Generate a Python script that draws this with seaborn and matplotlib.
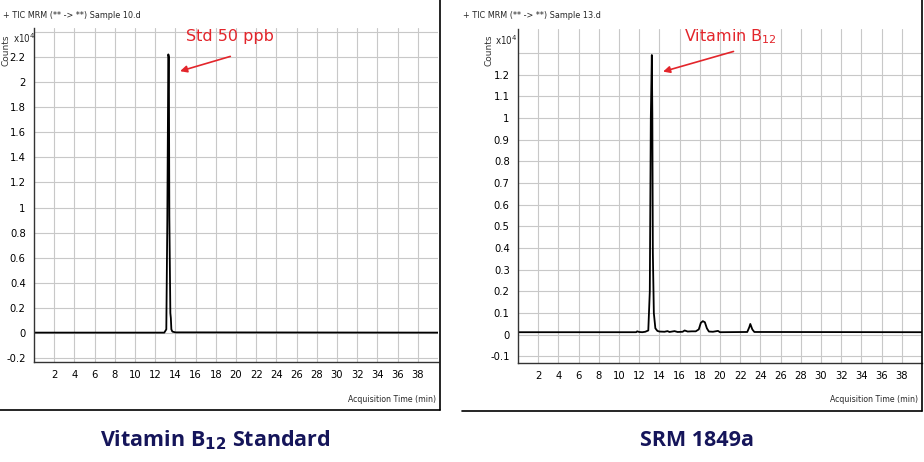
import numpy as np
import pandas as pd
import matplotlib
matplotlib.use("Agg")
import matplotlib.pyplot as plt
import seaborn as sns
from matplotlib.lines import Line2D

# ---------------- data (counts in units of 10^4) ----------------
std_time = [0.0, 12.9, 13.1, 13.2, 13.3, 13.35, 13.4, 13.5, 13.55, 13.6, 13.7, 14.0, 40.0]
std_counts = [0.004, 0.004, 0.03, 0.9, 2.22, 2.2, 0.93, 0.16, 0.12, 0.03, 0.012, 0.006, 0.004]

srm_time = [0.0, 11.7, 11.8, 12.0, 12.3, 12.6, 12.9, 13.05, 13.15, 13.25, 13.3, 13.35,
            13.45, 13.6, 13.8, 14.0, 14.5, 14.8, 15.0, 15.5, 15.8, 16.3, 16.5, 16.8,
            17.2, 17.6, 17.9, 18.1, 18.3, 18.5, 18.7, 18.9, 19.3, 19.8, 20.0, 22.7,
            22.9, 23.0, 23.2, 23.4, 40.0]
srm_counts = [0.012, 0.012, 0.016, 0.013, 0.012, 0.014, 0.02, 0.2, 1.0, 1.29, 1.02, 0.38,
              0.1, 0.03, 0.018, 0.015, 0.014, 0.017, 0.013, 0.017, 0.013, 0.014, 0.02, 0.015,
              0.016, 0.016, 0.025, 0.055, 0.063, 0.058, 0.03, 0.015, 0.014, 0.018, 0.012, 0.013,
              0.035, 0.05, 0.025, 0.013, 0.012]

x_ticks = list(range(2, 40, 2))
std_yticks = [-0.2, 0, 0.2, 0.4, 0.6, 0.8, 1, 1.2, 1.4, 1.6, 1.8, 2, 2.2, 2.4]
srm_yticks = [-0.1, 0, 0.1, 0.2, 0.3, 0.4, 0.5, 0.6, 0.7, 0.8, 0.9, 1, 1.1, 1.2, 1.3]

headers = ["+ TIC MRM (** -> **) Sample 10.d", "+ TIC MRM (** -> **) Sample 13.d"]
annotations = ["Std 50 ppb", "Vitamin B$_{12}$"]
titles = ["Vitamin B$_{\\mathbf{12}}$ Standard", "SRM 1849a"]

# ---------------- figure ----------------
sns.set_style("white")
plt.rcParams["font.family"] = ["DejaVu Sans"]
narrow = dict(family=["DejaVu Sans"], fontstretch="condensed")

fig = plt.figure(figsize=(9.24, 4.62), dpi=100)

ax_l = fig.add_axes([34 / 924, 1 - 362 / 462, (438 - 34) / 924, (362 - 28) / 462])
ax_r = fig.add_axes([518 / 924, 1 - 363 / 462, (922 - 518) / 924, (363 - 29) / 462])

panels = [
    (ax_l, std_time, std_counts, (-0.23, 2.43), std_yticks, 2.4),
    (ax_r, srm_time, srm_counts, (-0.13, 1.41), srm_yticks, 1.3),
]

for i, (ax, t, c, ylim, yt, hide) in enumerate(panels):
    df = pd.DataFrame({"time": t, "counts": c})
    sns.lineplot(data=df, x="time", y="counts", ax=ax, color="black",
                 linewidth=1.3, estimator=None, sort=False)
    ax.set_xlim(0, 40)
    ax.set_ylim(*ylim)
    ax.set_xticks(x_ticks)
    ax.set_xticklabels([str(v) for v in x_ticks], fontsize=8, **narrow)
    ax.set_yticks(yt)
    ax.set_yticklabels(["" if abs(v - hide) < 1e-9 else f"{v:g}" for v in yt],
                       fontsize=8, **narrow)
    ax.grid(True, color="#c8c8c8", linewidth=0.8)
    ax.set_axisbelow(True)
    ax.set_xlabel("")
    ax.set_ylabel("")
    for s in ["top", "right"]:
        ax.spines[s].set_visible(False)
    for s in ["left", "bottom"]:
        ax.spines[s].set_color("#333333")
        ax.spines[s].set_linewidth(1.0)
    ax.tick_params(axis="both", direction="out", length=4, width=0.8,
                   color="#333333", pad=2, labelcolor="black")

# header and axis text
fig.text(3 / 924, 1 - 15 / 462, headers[0], fontsize=6.5, va="center", ha="left", **narrow)
fig.text(463 / 924, 1 - 15 / 462, headers[1], fontsize=6.5, va="center", ha="left", **narrow)
for x0, xr in [(6, 436), (489, 918)]:
    fig.text(x0 / 924, 1 - 50 / 462, "Counts", rotation=90, fontsize=6.5,
             va="center", ha="center", color="#333333")
    fig.text(xr / 924, 1 - 399 / 462, "Acquisition Time (min)",
             fontsize=6.2, va="center", ha="right", **narrow)
fig.text(13 / 924, 1 - 38 / 462, "x10$^{4}$", fontsize=7, va="center", **narrow)
fig.text(495 / 924, 1 - 40 / 462, "x10$^{4}$", fontsize=7, va="center", **narrow)

# red annotations
red = "#e3252b"
ax_l.annotate("", xy=(14.2, 2.08), xytext=(19.7, 2.21),
              arrowprops=dict(arrowstyle="-|>", color=red, lw=1.2, mutation_scale=10))
ax_l.text(15.0, 2.36, annotations[0], color=red, fontsize=11.5, va="center", ha="left")
ax_r.annotate("", xy=(14.1, 1.21), xytext=(21.6, 1.31),
              arrowprops=dict(arrowstyle="-|>", color=red, lw=1.2, mutation_scale=10))
ax_r.text(16.4, 1.375, annotations[1], color=red, fontsize=11.5, va="center", ha="left")

# panel frame lines
fig.add_artist(Line2D([440 / 924, 440 / 924], [1 - 410 / 462, 1.0], color="black", lw=1.2))
fig.add_artist(Line2D([0, 440 / 924], [1 - 410 / 462, 1 - 410 / 462], color="black", lw=1.2))
fig.add_artist(Line2D([922 / 924, 922 / 924], [1 - 411 / 462, 1.0], color="black", lw=1.2))
fig.add_artist(Line2D([462 / 924, 922 / 924], [1 - 411 / 462, 1 - 411 / 462], color="black", lw=1.2))

# bottom titles
navy = "#15155a"
fig.text(215 / 924, 1 - 440 / 462, titles[0], color=navy, fontsize=15.5, fontweight="bold",
         ha="center", va="center", family=["Open Sans", "DejaVu Sans"])
fig.text(697 / 924, 1 - 440 / 462, titles[1], color=navy, fontsize=15.5, fontweight="bold",
         ha="center", va="center", family=["Open Sans", "DejaVu Sans"])

fig.savefig("out.png", dpi=100)
